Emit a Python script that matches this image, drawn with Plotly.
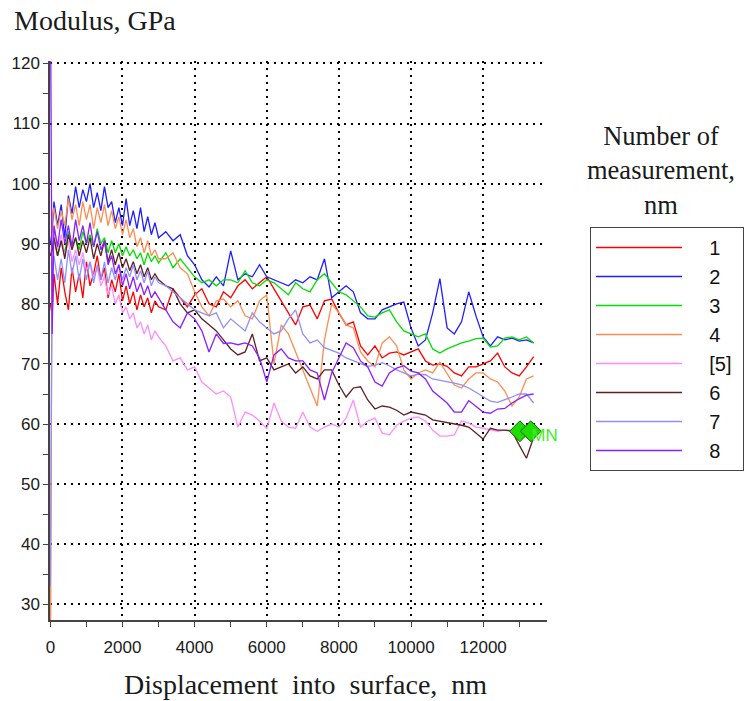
import plotly.graph_objects as go

# Displacement grid (nm)
depth_nm = [0, 50] + list(range(100, 3001, 100)) + list(range(3200, 13401, 200))

mod_1 = [80, 78, 85, 80, 86, 82, 79, 86, 82, 85, 81, 87, 83, 85, 88, 84, 86, 81, 84, 82, 85, 80.5, 83, 80,
         82, 79, 81.5, 79.5, 81, 78.5, 80.5, 79.5,
         79, 82.5, 81, 79.5,
         81.5, 82.5, 80, 79.5, 82, 81, 83, 84, 82.5, 83.5, 84.5, 82.5, 80.5, 78.5, 76.5, 79.5, 79.8, 77.5,
         80.5, 80.8, 78.5, 76.5, 77, 73, 71.5, 73, 71, 71.8, 72, 71.5, 72, 72.5, 70.5, 69.8, 70, 69.6,
         68.5, 68, 69.5, 69.5, 70, 70.5, 71.8, 69.5, 68.5, 68, 69.5, 71.2]
mod_2 = [90, 92, 97, 93, 96.5, 91, 98, 95, 99.5, 96, 99, 97, 100, 96, 98.5, 95.5, 99.5, 96, 97, 93.5, 96,
         93, 97.5, 93, 95.5, 92.5, 96, 92, 94.5, 91.5, 93.5, 91,
         92, 90.5, 91.5, 88,
         86.5, 84, 82.8, 84.5, 83, 88.8, 84, 85, 84.5, 86.5, 84.5, 84, 83.5, 83, 84, 83.5, 84.5, 84,
         87.5, 81, 82, 83, 82, 78.5, 77.5, 77.5, 79, 79.5, 80, 80.3, 76, 73, 74, 78.5, 84.2, 76, 75,
         77, 82, 78, 74.5, 73, 74.5, 74, 74.3, 73.8, 74, 73.5]
mod_3 = [88, 89, 91, 88, 90.5, 88.5, 92, 89.5, 91, 89, 92, 90, 91.5, 89.5, 92.5, 90, 91, 88.5, 90.5, 88.5,
         90, 88, 89.5, 88, 89, 87.5, 88.5, 86.5, 88.5, 87, 88, 86.8,
         88.5, 86, 87.5, 86,
         84.5, 83.5, 84, 83, 84, 84, 83.5, 85.5, 83.5, 83, 84, 83.5, 82.5, 81.5, 83.5, 82.5, 82, 84,
         85, 83.5, 82, 81.5, 80.5, 79.5, 78, 77.8, 78.5, 79, 77, 75.5, 75, 74.5, 75, 72.5, 71.8, 72.5,
         73, 73.5, 73.8, 74.2, 74.3, 72.8, 73, 74.3, 74.5, 74, 74.5, 73.5]
mod_4 = [15, 94, 96, 92.5, 95.5, 93, 97.5, 94, 96.5, 93, 97, 94, 96.5, 92.5, 96, 93.5, 96.5, 93, 95.5,
         92.5, 94.5, 91.5, 94, 91, 92.5, 89.5, 91, 88.5, 90.5, 88, 89, 87.5,
         87.5, 88.5, 86, 85,
         82, 79.5, 78, 80.5, 80.8, 79.5, 80.5, 78, 77.5, 80.5, 81.5, 70, 76.5, 75, 72, 69, 66, 63,
         74, 80, 78.5, 76.5, 76, 72, 70.5, 69.5, 73.5, 74.5, 73, 69, 67.5, 68.5, 69, 68.5, 70.3, 68.5,
         66.5, 66, 67.5, 68.5, 68.5, 67.5, 67, 65.5, 63, 64.5, 67.5, 68]
mod_5 = [88, 90, 93, 89, 91.5, 88, 90.5, 87, 89, 86.5, 88.5, 85.5, 87, 84.5, 86, 83, 84.5, 81.5, 83, 80,
         81.5, 78.5, 79.5, 77.5, 78.5, 76, 77, 75, 76.5, 74, 75.5, 74.5,
         73, 70.5, 71, 69,
         69.5, 67, 66, 65, 65.5, 64.5, 59.5, 62, 61.5, 60.5, 59.2, 63.5, 60.5, 59.5, 59.3, 62, 59.5, 58.8,
         59.5, 60, 59.5, 61, 64, 59.5, 60.5, 61, 58.5, 58.2, 59.8, 60.5, 61, 61.2, 60.5, 59, 58, 58,
         58.2, 60.5, 60.2, 59.5, 59.3, 59, 58.8, 59, 59, 58.8, None, None]
mod_6 = [88, 89, 91, 88, 90.5, 87.5, 91.5, 89, 91, 88, 90.5, 88.5, 91, 87.5, 90, 88, 90.5, 87, 89, 86.5,
         88.5, 86, 87.5, 85.5, 87, 85, 86.5, 84.5, 86, 84, 85, 84,
         83, 82.5, 80, 78.5,
         79, 77.5, 76.5, 75.5, 74, 72.5, 71.5, 72, 75, 70.5, 71, 69, 69.5, 70, 68.5, 69.5, 68, 67.5,
         69, 69, 66.5, 64.5, 66, 66.2, 64, 62.5, 63, 62.8, 62.3, 61.5, 62, 61.8, 61.5, 60.7, 60.5, 60.2,
         60, 59.8, 59.5, 58.5, 57.5, 59.3, 59, 59, 58.8, 56.5, 54.3, 57.8]
mod_7 = [33, 86, 88, 84, 87.5, 83.5, 89, 85, 88, 84, 87.5, 84, 87, 83.5, 86.5, 84, 87, 83.5, 86, 84,
         86.5, 84, 86, 84.5, 86.5, 84, 85.5, 83.5, 85.5, 83, 84.5, 83.5,
         83, 82, 81, 80,
         79, 78.5, 78, 78.5, 76, 77.5, 76.5, 75.5, 78.5, 77, 76, 75, 75.5, 77.5, 79, 75, 73.5, 74, 72.7,
         72.3, 71.8, 71, 70.5, 70, 69.6, 69.8, 70.2, 69.7, 69, 68.5, 68, 68.3, 68.2, 67.5, 67.3, 67,
         66.8, 66.5, 66, 65.3, 64.6, 63.8, 63.6, 64, 64.5, 65, 65, 63.5]
mod_8 = [135, 75, 93, 89.5, 94, 90, 93, 89.5, 94, 90.5, 93, 90, 93.5, 89.5, 92, 89, 90.5, 86.5, 88, 85,
         86.5, 83, 85, 82.5, 84.5, 82, 83.5, 81.5, 83, 81, 82, 81,
         79, 77, 76, 78.5,
         77.5, 75.5, 72, 75, 73.4, 73.5, 73.2, 73.5, 73, 71, 67, 71.5, 72.5, 71, 70.5, 70.5, 69, 68.5,
         64, 68.5, 71, 73.5, 72.7, 70.5, 69.5, 67, 66.3, 68.5, 69.3, 69.7, 68.8, 68.5, 67.5, 65.5, 64.5,
         63.5, 62, 62, 63.9, 63, 62, 61.8, 62.5, 62.6, 63.5, 64.2, 64.8, 65]

series_names = ["1", "2", "3", "4", "[5]", "6", "7", "8"]
series_values = [mod_1, mod_2, mod_3, mod_4, mod_5, mod_6, mod_7, mod_8]
series_colors = ["#ff0000", "#1f1fff", "#00e000", "#ff8c50", "#ff8cff", "#602020", "#8f8fff", "#8a1fff"]

# End-of-test markers
marker_x = [13020, 13320]
marker_y = [58.8, 58.8]

x_tick_vals = [0, 2000, 4000, 6000, 8000, 10000, 12000]
x_tick_text = ["0", "2000", "4000", "6000", "8000", "10000", "12000"]
y_tick_vals = [30, 40, 50, 60, 70, 80, 90, 100, 110, 120]

fig = go.Figure()
pad = "\u00a0" * 4
for name, vals, col in zip(series_names, series_values, series_colors):
    fig.add_trace(go.Scatter(
        x=depth_nm, y=vals, mode="lines", name=pad + name + "\u00a0",
        line=dict(color=col, width=1.3), connectgaps=False,
    ))

fig.add_trace(go.Scatter(
    x=marker_x, y=marker_y, mode="markers", showlegend=False,
    marker=dict(symbol="diamond", size=16, color="#1fdd00", line=dict(color="#106010", width=1)),
))
fig.add_trace(go.Scatter(
    x=[13700], y=[57.9], mode="text", text=["MN"], showlegend=False, cliponaxis=False,
    textfont=dict(family="Liberation Sans Narrow, Liberation Sans, Arial", size=17, color="#44ee22"),
))

tick_font = dict(family="Liberation Sans, Arial", size=17, color="#1a1a1a")
grid_kw = dict(showgrid=True, gridcolor="#000000", gridwidth=2, griddash="2px,5px")

fig.update_xaxes(
    range=[-10, 13770], tickmode="array", tickvals=x_tick_vals, ticktext=x_tick_text,
    ticks="outside", ticklen=5, tickcolor="#444", tickwidth=1, ticklabelstandoff=6,
    minor=dict(dtick=1000, tick0=0, ticks="outside", ticklen=5, tickcolor="#444", showgrid=False),
    showline=True, linecolor="#444", linewidth=2, zeroline=False,
    tickfont=tick_font, layer="below traces", **grid_kw,
)
fig.update_yaxes(
    range=[27.4, 120.4], tickmode="array", tickvals=y_tick_vals,
    ticks="outside", ticklen=5, tickcolor="#444", tickwidth=1,
    minor=dict(dtick=5, tick0=0, ticks="outside", ticklen=5, tickcolor="#444", showgrid=False),
    showline=True, linecolor="#444", linewidth=1.5, zeroline=False,
    tickfont=tick_font, layer="below traces", **grid_kw,
)

serif = "Liberation Serif, Times New Roman, serif"
fig.update_layout(
    width=745, height=701,
    margin=dict(l=50, r=198, t=61, b=81, autoexpand=False),
    plot_bgcolor="white", paper_bgcolor="white",
    legend=dict(
        x=1.0865, y=0.703, xanchor="left", yanchor="top",
        bordercolor="#444", borderwidth=1, bgcolor="white",
        font=dict(family="Liberation Sans, Arial", size=20, color="#111"),
        itemwidth=86, tracegroupgap=0,
    ),
    annotations=[
        dict(text="Modulus, GPa", xref="paper", yref="paper", x=-0.0765, y=1.0716,
             xanchor="left", yanchor="middle", showarrow=False,
             font=dict(family=serif, size=28, color="#1a1a1a")),
        dict(text="Displacement\u00a0 into\u00a0 surface,\u00a0 nm", xref="paper", yref="paper",
             x=0.515, y=-0.116, xanchor="center", yanchor="middle", showarrow=False,
             font=dict(family=serif, size=28, color="#1a1a1a")),
        dict(text="Number of<br>measurement,<br>nm", xref="paper", yref="paper",
             x=1.2294, y=0.805, xanchor="center", yanchor="middle", showarrow=False, align="center",
             font=dict(family=serif, size=26.5, color="#1a1a1a")),
    ],
)

fig.write_html(
    "out.html",
    config={"displayModeBar": False},
    post_script="document.body.style.margin='0px';document.body.style.padding='0px';document.body.style.overflow='hidden';",
)
